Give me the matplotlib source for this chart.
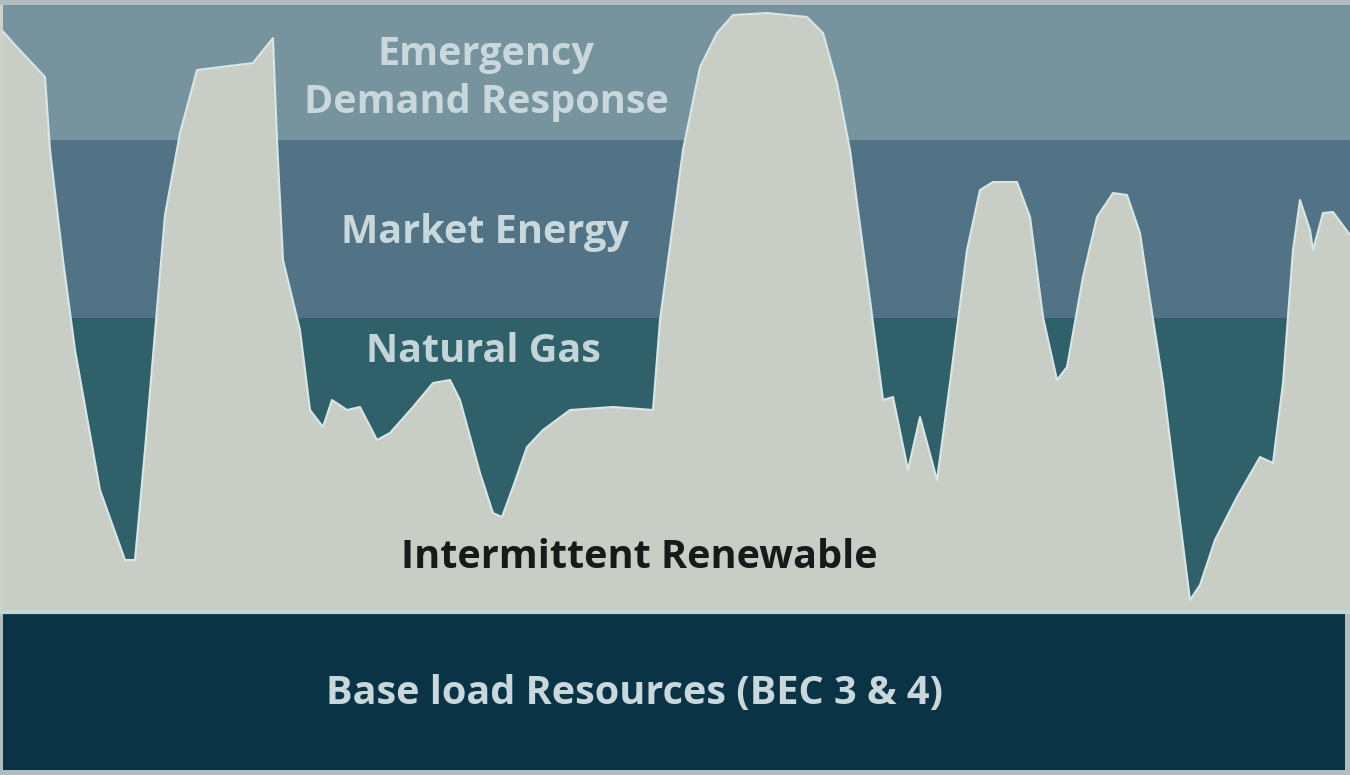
import numpy as np
import matplotlib
matplotlib.use('Agg')
from matplotlib import pyplot as plt

# load profile (x position, load level measured from the bottom of the picture)
hours = [0, 15, 45, 50, 63, 75, 100, 125, 135, 145, 165, 180, 197, 253, 273, 277,
         283, 300, 310, 323, 332, 347, 360, 377, 390, 413, 433, 450, 460, 480, 493,
         502, 513, 527, 543, 570, 613, 653, 660, 683, 700, 717, 733, 767, 807, 823,
         837, 850, 870, 883, 893, 908, 920, 937, 950, 967, 980, 993, 1017, 1030, 1043,
         1057, 1067, 1083, 1097, 1113, 1127, 1140, 1150, 1163, 1177, 1190, 1200, 1215,
         1237, 1260, 1273, 1283, 1293, 1300, 1310, 1313, 1323, 1333, 1350]
depth = [28, 45, 77, 150, 260, 350, 490, 560, 560, 450, 215, 133, 70, 63, 38, 140,
         260, 330, 410, 427, 400, 410, 407, 440, 433, 407, 383, 380, 400, 473, 513,
         517, 487, 447, 430, 410, 407, 410, 320, 150, 67, 33, 15, 13, 17, 33,
         83, 150, 300, 400, 397, 470, 417, 480, 383, 250, 190, 182, 182, 217, 317,
         380, 367, 277, 217, 193, 195, 233, 300, 383, 497, 600, 585, 540,
         497, 457, 463, 383, 250, 200, 230, 250, 213, 212, 235]
load = [775 - d for d in depth]

# resource tiers: (name, lower level, upper level, colour)
tier_names = ['Base load Resources (BEC 3 & 4)', 'Natural Gas', 'Market Energy',
              'Emergency\nDemand Response']
tier_low = [5, 165, 457, 635]
tier_high = [161, 457, 635, 770]
tier_colors = ['#0a3446', '#306069', '#527385', '#76939e']
text_colors = ['#c8d8dc', '#c3d5d8', '#c8d8dc', '#c8d8dc']
label_y = [82, 423, 543, 697]
label_x = [635, 483, 485, 486]

fig = plt.figure(figsize=(13.5, 7.75), dpi=100)
fig.patch.set_facecolor('#b2bcbe')
ax = fig.add_axes([0, 0, 1, 1])
ax.set_xlim(0, 1350)
ax.set_ylim(0, 775)
ax.axis('off')

for lo, hi, c in zip(tier_low[1:], tier_high[1:], tier_colors[1:]):
    ax.fill_between([3, 1350], lo, hi, color=c, lw=0)

# intermittent renewable area
ax.fill_between(hours, tier_low[1], load, color='#c8cec6', lw=0, zorder=2)
ax.plot(hours, load, color='#d8e6e6', lw=1.5, zorder=3)
ax.fill_between([0, 3], tier_low[1], 770, color='#cdd3cc', lw=0, zorder=3)

# base band with light separator line
ax.fill_between([3, 1345], tier_low[0], tier_high[0], color=tier_colors[0], lw=0, zorder=4)
ax.axhline(163, color='#c0d6d6', lw=3, zorder=4)

font = dict(family=['Open Sans', 'DejaVu Sans'], weight='bold', ha='center', va='center')
for name, x, y, c in zip(tier_names, label_x, label_y, text_colors):
    ax.text(x, y, name, color=c, fontsize=28.5, linespacing=1.3, zorder=5, **font)
ax.text(639, 218, 'Intermittent Renewable', color='#161a1a', fontsize=28.5, zorder=5, **font)

plt.savefig('out.png', dpi=100, facecolor=fig.get_facecolor())
